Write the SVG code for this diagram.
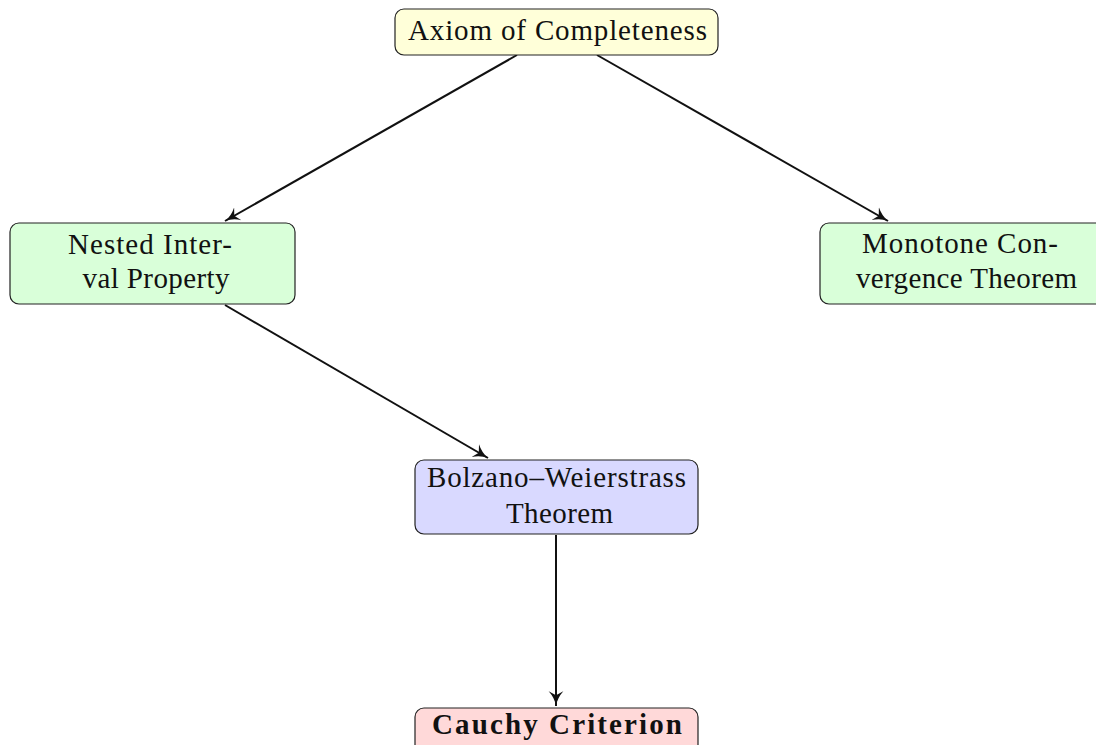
<svg xmlns="http://www.w3.org/2000/svg" width="1096" height="745" viewBox="0 0 1096 745">
<style>
.box{stroke:#222;stroke-width:1.2}
.t{font-family:"Liberation Serif","DejaVu Serif",serif;font-size:29px;fill:#111;text-anchor:middle}
.b{font-weight:bold}
.e{stroke:#111;stroke-width:2;fill:none;marker-end:url(#ah)}
</style>
<defs>
<marker id="ah" viewBox="0 0 12 12" refX="11" refY="6" markerWidth="8" markerHeight="8" markerUnits="strokeWidth" orient="auto">
<path d="M0,0.5 Q5,5 11,6 Q5,7 0,11.5 L3,6 Z" fill="#111"/>
</marker>
</defs>
<rect width="1096" height="745" fill="#fff"/>
<g id="connectors">
<line class="e" x1="517" y1="55" x2="225" y2="221"/>
<line class="e" x1="597" y1="55" x2="888" y2="221"/>
<line class="e" x1="225" y1="305" x2="488" y2="458"/>
<line class="e" x1="556" y1="535" x2="556" y2="706"/>
</g>
<g id="axiom">
<rect class="box" x="395" y="9" width="323" height="46" rx="9" fill="#ffffd9"/>
<text class="t" x="557.5" y="40" textLength="299" lengthAdjust="spacing">Axiom of Completeness</text>
</g>
<g id="nested">
<rect class="box" x="10" y="223" width="285" height="81" rx="9" fill="#d9ffd9"/>
<text class="t" x="150" y="254" textLength="164" lengthAdjust="spacing">Nested Inter-</text>
<text class="t" x="156" y="288" textLength="147" lengthAdjust="spacing">val Property</text>
</g>
<g id="monotone">
<rect class="box" x="820" y="223" width="285" height="81" rx="9" fill="#d9ffd9"/>
<text class="t" x="960" y="253" textLength="196" lengthAdjust="spacing">Monotone Con-</text>
<text class="t" x="966.5" y="288" textLength="221" lengthAdjust="spacing">vergence Theorem</text>
</g>
<g id="bolzano">
<rect class="box" x="415" y="460" width="283" height="74" rx="9" fill="#d9d9ff"/>
<text class="t" x="556.5" y="487" textLength="259" lengthAdjust="spacing">Bolzano–Weierstrass</text>
<text class="t" x="559.5" y="523" textLength="107" lengthAdjust="spacing">Theorem</text>
</g>
<g id="cauchy">
<rect class="box" x="415" y="708" width="283" height="50" rx="9" fill="#ffd9d9"/>
<text class="t b" x="557" y="734" textLength="250" lengthAdjust="spacing">Cauchy Criterion</text>
</g>
</svg>
